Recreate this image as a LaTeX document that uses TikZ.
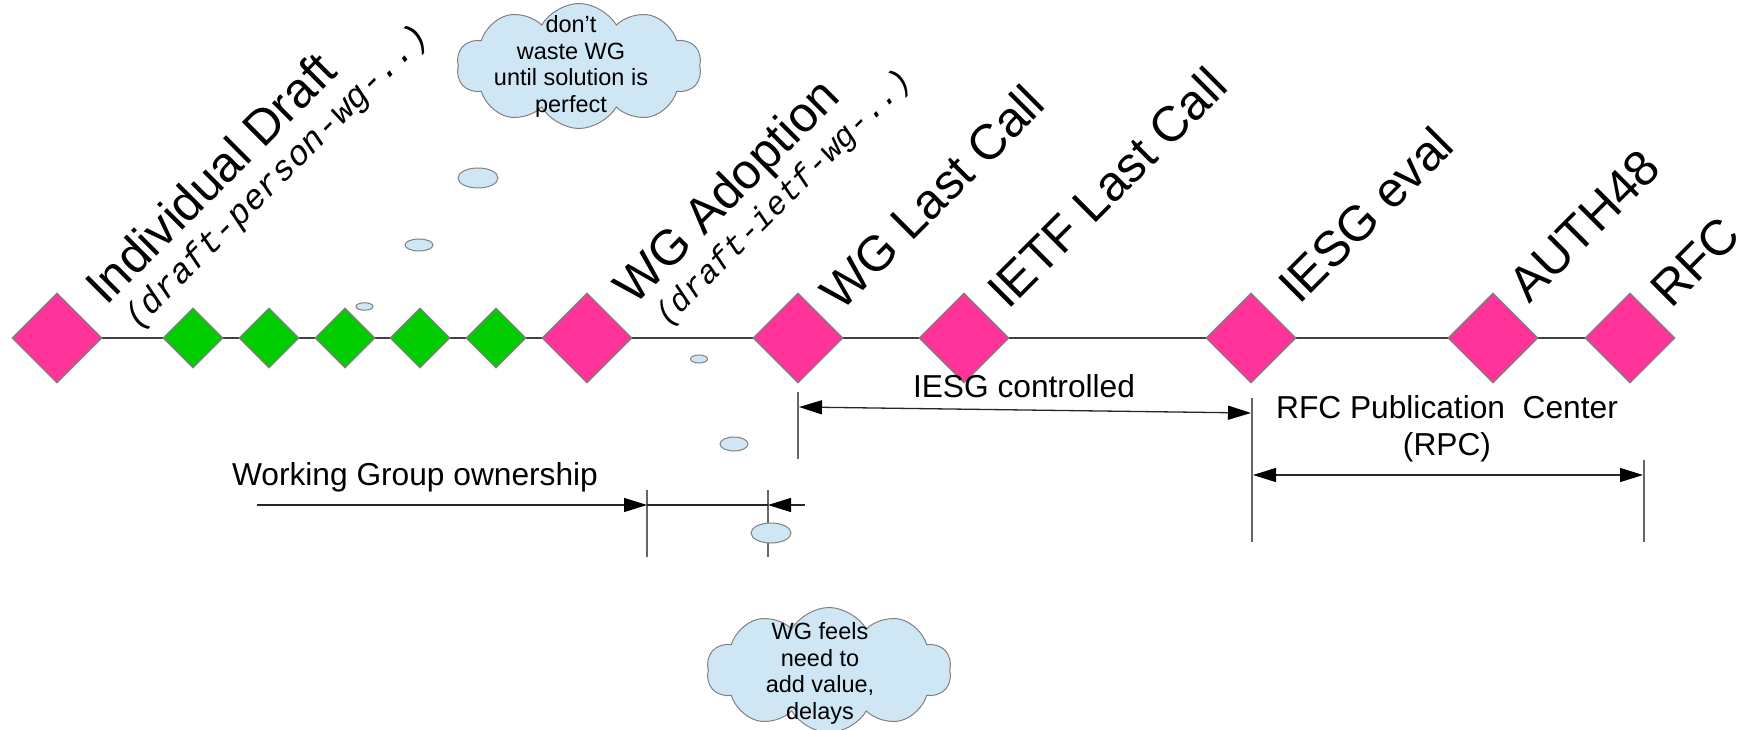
\documentclass[tikz,border=0pt]{standalone}
\usepackage{fontspec}
\setmainfont{Liberation Sans}
\setmonofont{Liberation Mono}
\usetikzlibrary{shapes.geometric,shapes.symbols,arrows.meta,backgrounds}
\definecolor{pinkd}{HTML}{FF3399}
\definecolor{greend}{HTML}{00CC00}
\definecolor{bubble}{HTML}{CFE7F5}
\definecolor{edgec}{HTML}{808080}
\definecolor{linec}{HTML}{404040}
\begin{document}
\begin{tikzpicture}[x=1pt,y=-1pt,
  bigdia/.style={diamond,draw=edgec,line width=1.2pt,fill=pinkd,minimum width=90pt,minimum height=90pt,inner sep=0pt},
  smalldia/.style={diamond,draw=edgec,line width=1.2pt,fill=greend,minimum width=60pt,minimum height=60pt,inner sep=0pt},
  stage/.style={rotate=45,anchor=base west,inner sep=0pt,font=\fontsize{49.5}{53}\selectfont},
  fname/.style={rotate=45,anchor=base west,inner sep=0pt},
  bub/.style={ellipse,draw=edgec,line width=1pt,fill=bubble,inner sep=0pt},
  thought/.style={cloud,cloud puffs=10,cloud puff arc=120,cloud ignores aspect,draw=edgec,line width=1pt,fill=bubble,minimum width=245pt,minimum height=125pt,inner sep=0pt},
  cloudtext/.style={align=center,inner sep=0pt,font=\fontsize{23.5}{26.5}\selectfont},
  lbl/.style={inner sep=0pt,font=\fontsize{31.7}{37}\selectfont},
  dimline/.style={draw=black!85,line width=1.3pt},
  tickline/.style={draw=edgec!80!black,line width=1.2pt},
  tipr/.style={-{Triangle[length=23pt,width=14pt,fill=black,color=black]}},
  tipb/.style={{Triangle[length=23pt,width=14pt,fill=black,color=black]}-{Triangle[length=23pt,width=14pt,fill=black,color=black]}},
]
\useasboundingbox (0,0) rectangle (1754,730);

% stages
\node[bigdia] (d1) at (57,338) {};
\node[smalldia] (g1) at (193,338) {};
\node[smalldia] (g2) at (269,338) {};
\node[smalldia] (g3) at (345,338) {};
\node[smalldia] (g4) at (420,338) {};
\node[smalldia] (g5) at (496,338) {};
\node[bigdia] (d2) at (587,338) {};
\node[bigdia] (d3) at (798,338) {};
\node[bigdia] (d4) at (964,338) {};
\node[bigdia] (d5) at (1251,338) {};
\node[bigdia] (d6) at (1493,338) {};
\node[bigdia] (d7) at (1630,338) {};
\begin{scope}[on background layer]
\draw[linec,line width=1.5pt] (d1.center) -- (d7.center);
\end{scope}

% rotated labels
\node[stage] (l1) at (106,307) {Individual Draft};
\node[fname,font=\fontsize{34.5}{37}\selectfont\ttfamily\itshape] (m1) at (137,331) {(draft-person-wg-..)};
\node[stage] (l2) at (634,307) {WG Adoption};
\node[fname,font=\fontsize{32.2}{35}\selectfont\ttfamily\itshape] (m2) at (667,328) {(draft-ietf-wg-..)};
\node[stage] (l3) at (841,313) {WG Last Call};
\node[stage] (l4) at (1008,311) {IETF Last Call};
\node[stage] (l5) at (1299,306) {IESG eval};
\node[stage] (l6) at (1529,305) {AUTH48};
\node[stage] (l7) at (1671,310) {RFC};

% IESG controlled
\coordinate (ta1) at (798,392);
\coordinate (ta2) at (798,459);
\coordinate (tb1) at (1252,398);
\coordinate (tb2) at (1252,542);
\draw[tickline] (ta1) -- (ta2);
\draw[tickline] (tb1) -- (tb2);
\coordinate (ia) at (799,407);
\coordinate (ib) at (1251,413);
\draw[dimline,tipb] (ia) -- (ib);
\node[lbl,anchor=base] (iesgc) at (1024,397) {IESG controlled};

% RPC
\coordinate (tc1) at (1644,460);
\coordinate (tc2) at (1644,542);
\draw[tickline] (tc1) -- (tc2);
\coordinate (ra) at (1253,475);
\coordinate (rb) at (1643,475);
\draw[dimline,tipb] (ra) -- (rb);
\node[lbl,align=center] (rpc) at (1447,428.5) {RFC Publication~ Center\\(RPC)};

% WG ownership
\coordinate (te1) at (647,490);
\coordinate (te2) at (647,557);
\coordinate (tf1) at (768,490);
\coordinate (tf2) at (768,557);
\draw[tickline] (te1) -- (te2);
\draw[tickline] (tf1) -- (tf2);
\coordinate (wa) at (257,505);
\coordinate (wb) at (647,505);
\coordinate (wc) at (768,505);
\coordinate (wd) at (805,505);
\draw[dimline,tipr] (wa) -- (wb);
\draw[dimline] (wb) -- (wc);
\draw[dimline,tipr] (wd) -- (wc);
\node[lbl,anchor=base] (wgo) at (415,485) {Working Group ownership};

% thought clouds and bubbles
\node[thought] (c1) at (579,66) {};
\node[cloudtext] (c1t) at (571,66.5) {don’t\\waste WG\\until solution is\\perfect};
\node[bub,minimum width=40pt,minimum height=20pt] (b1) at (478,178) {};
\node[bub,minimum width=28pt,minimum height=12pt] (b2) at (419,245) {};
\node[bub,minimum width=17pt,minimum height=7.5pt] (b3) at (364.5,306.5) {};
\node[bub,minimum width=17pt,minimum height=8pt] (b4) at (699,359) {};
\node[bub,minimum width=28pt,minimum height=14pt] (b5) at (734,444) {};
\node[bub,minimum width=40pt,minimum height=20pt] (b6) at (771,533) {};
\node[thought] (c2) at (829,670) {};
\node[cloudtext] (c2t) at (820,673.5) {WG feels\\need to\\add value,\\delays};
\end{tikzpicture}
\end{document}
